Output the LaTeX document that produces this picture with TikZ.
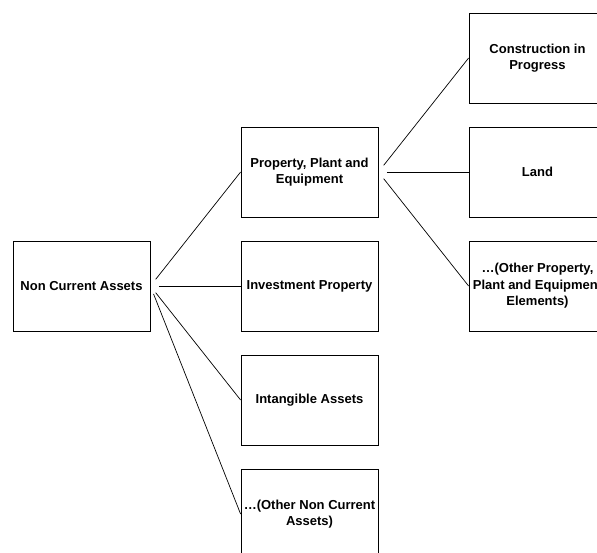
\documentclass[tikz,border=0pt]{standalone}
\usepackage{fontspec}
\setmainfont{Liberation Sans}
\begin{document}
\begin{tikzpicture}[x=1pt,y=-1pt,
  box/.style={draw, line width=0.8pt, minimum width=137pt, minimum height=90pt,
    align=center, inner sep=0pt, font=\bfseries\fontsize{13}{16.5}\selectfont},
  link/.style={line width=0.7pt, shorten <=8.5pt}]
\useasboundingbox (0,0) rectangle (597,552);
\clip (0,0) rectangle (597,552);
\node[box] (nca) at (81.5,286) {Non Current Assets};
\node[box] (ppe) at (309.5,172) {Property, Plant and\\Equipment};
\node[box] (inv) at (309.5,286) {Investment Property};
\node[box] (int) at (309.5,400) {Intangible Assets};
\node[box] (onca) at (309.5,514) {…(Other Non Current\\Assets)};
\node[box] (cip) at (537.5,58) {Construction in\\Progress};
\node[box] (land) at (537.5,172) {Land};
\node[box] (oppe) at (537.5,286) {…(Other Property,\\Plant and Equipment\\Elements)};
\draw[link] (nca.east) -- (ppe.west);
\draw[link] (nca.east) -- (inv.west);
\draw[link] (nca.east) -- (int.west);
\draw[link] (nca.east) -- (onca.west);
\draw[link] (ppe.east) -- (cip.west);
\draw[link] (ppe.east) -- (land.west);
\draw[link] (ppe.east) -- (oppe.west);
\end{tikzpicture}
\end{document}
